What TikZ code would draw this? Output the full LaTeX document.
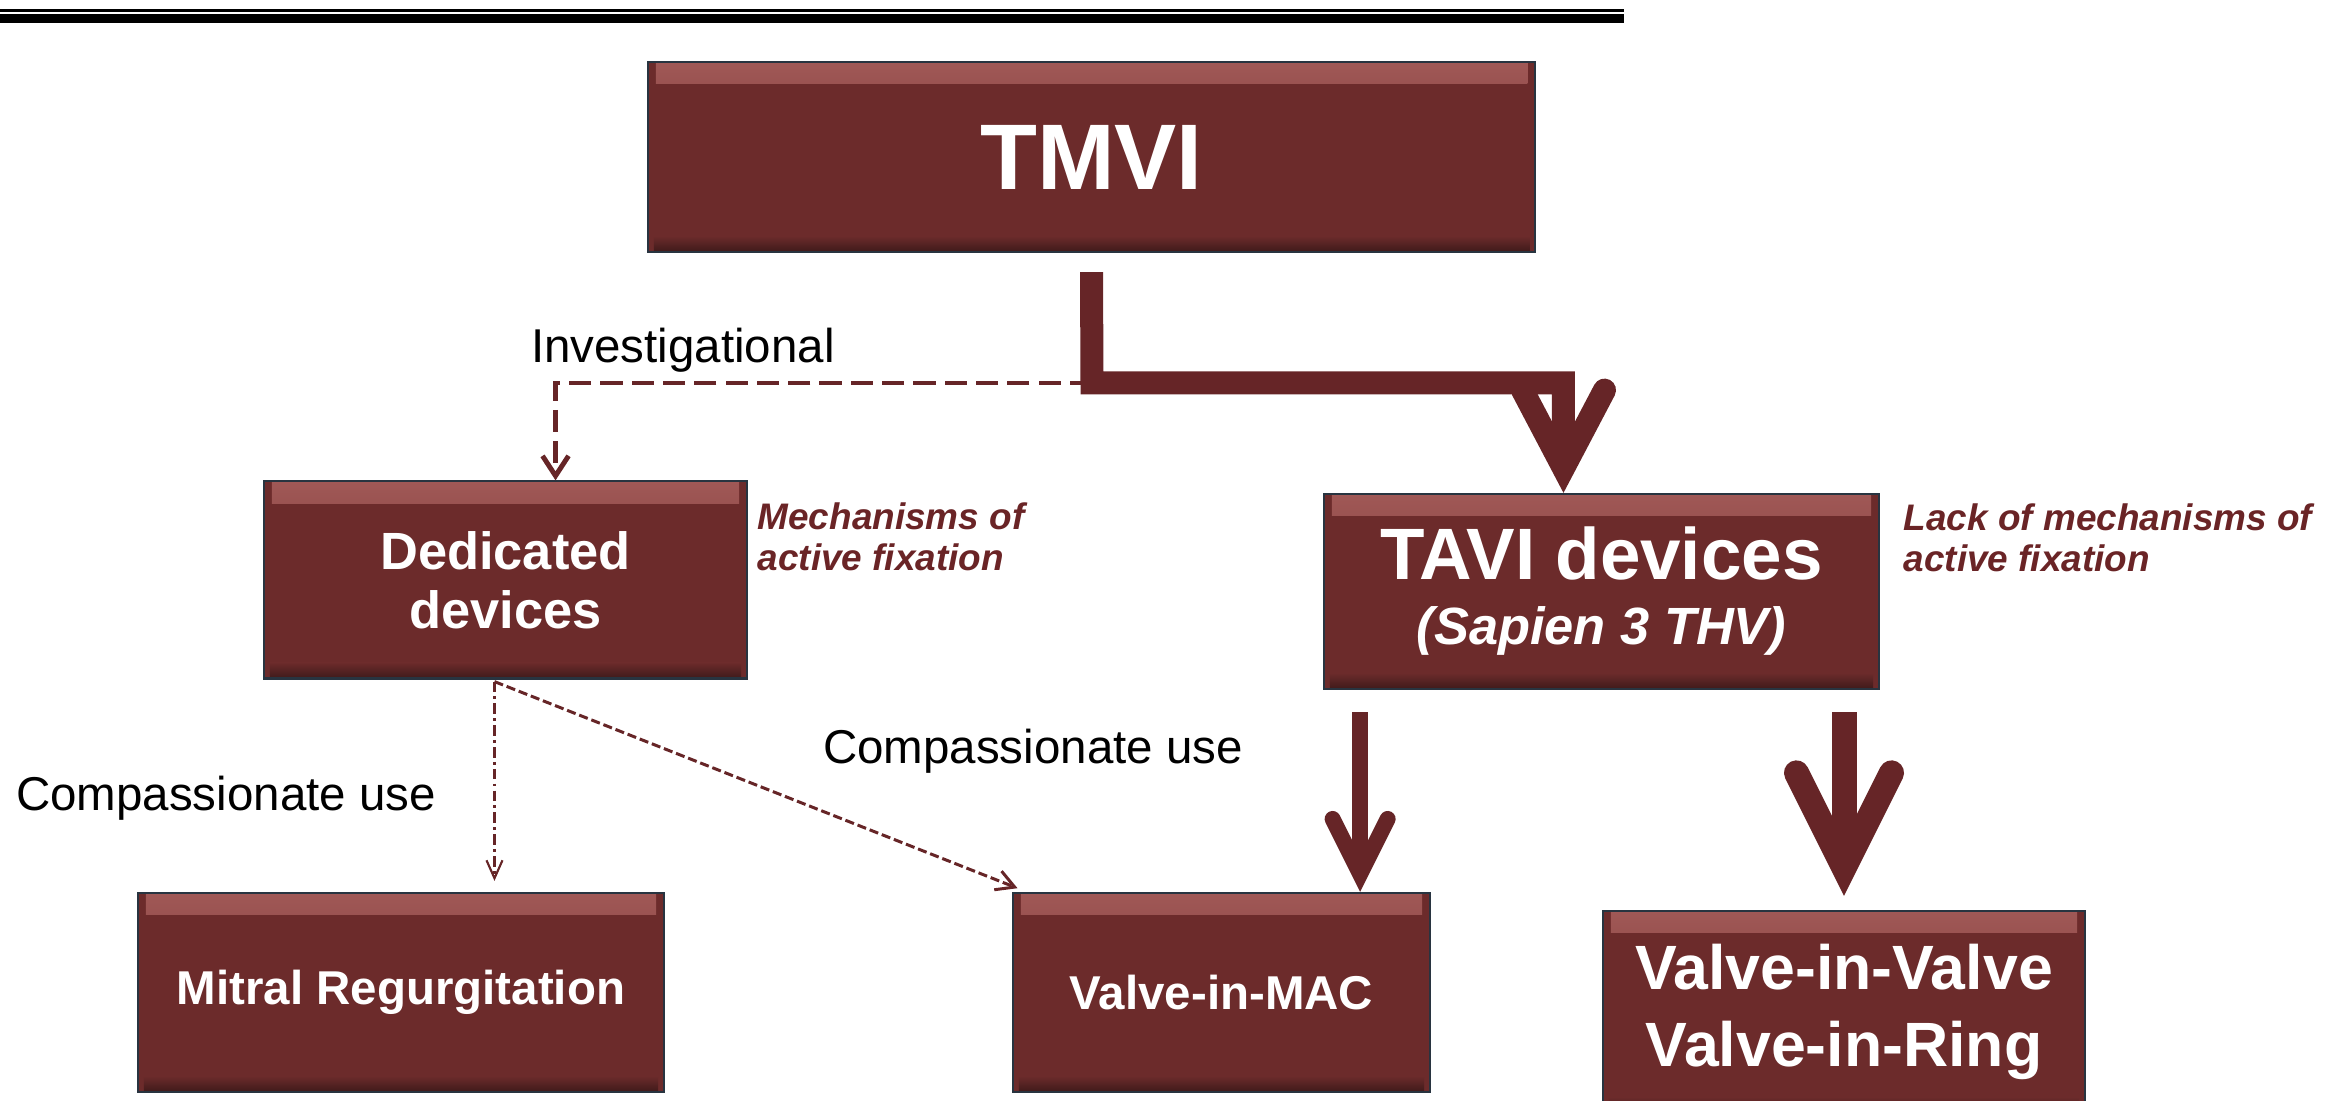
\documentclass[tikz,border=0pt]{standalone}
\usepackage{fontspec}
\setmainfont{Liberation Sans}
\usepackage{xcolor}
\usepackage{tikz}
\usetikzlibrary{positioning}
\usetikzlibrary{arrows.meta}
\definecolor{boxred}{RGB}{108,43,43}
\definecolor{arrowred}{RGB}{102,37,39}
\definecolor{notered}{RGB}{106,36,38}
\definecolor{boxline}{RGB}{40,52,64}
\definecolor{bevelhi}{RGB}{160,88,86}
\definecolor{bevello}{RGB}{62,26,26}

\begin{document}
\begin{tikzpicture}[x=0.01cm, y=-0.01cm]
\useasboundingbox (0,0) rectangle (2326,1101);
% Define styles
\tikzstyle{devbox} = [draw=boxline, line width=0.6pt, fill=boxred, text=white, align=center, inner sep=0pt,
  path picture={
    \shade[top color=bevelhi, bottom color=boxred] ([xshift=0.08cm]path picture bounding box.north west) rectangle ([xshift=-0.08cm,yshift=-0.22cm]path picture bounding box.north east);
    \shade[top color=boxred, bottom color=bevello] ([xshift=0.06cm,yshift=0.16cm]path picture bounding box.south west) rectangle ([xshift=-0.06cm]path picture bounding box.south east);
  }]
\tikzstyle{pathtext} = [font=\fontsize{13.5}{16}\selectfont, text=black, inner sep=0pt]
\tikzstyle{fixnote} = [font=\fontsize{10.5}{11.8}\selectfont\bfseries\itshape, text=notered, align=left, inner sep=0pt, anchor=west]
\tikzstyle{fatarrow} = [draw=arrowred, line join=miter, -{Straight Barb[length=0.78cm, width=0.82cm, line cap=round]}]
\tikzstyle{dashlink} = [draw=arrowred, line width=1.4pt, dash pattern=on 6.3pt off 2.6pt, -{Straight Barb[length=0.2cm, width=0.26cm]}]
\tikzstyle{finedash} = [draw=arrowred, line width=0.6pt, dash pattern=on 3pt off 1.2pt on 0.8pt off 1.2pt, -{Straight Barb[length=0.18cm, width=0.16cm]}]
\tikzstyle{diagdash} = [draw=arrowred, line width=0.85pt, dash pattern=on 2.6pt off 1.1pt, -{Straight Barb[length=0.18cm, width=0.2cm]}]

% Top rule
\fill[black] (0,9) rectangle (1624,12);
\fill[black] (0,14) rectangle (1624,23);

% Define nodes
\node[devbox, minimum width=8.87cm, minimum height=1.90cm, font=\fontsize{26.5}{30}\selectfont\bfseries] (tmvi) at (1091.5,157) {TMVI};
\node[devbox, minimum width=4.83cm, minimum height=1.97cm, font=\fontsize{14.9}{16.8}\selectfont\bfseries] (dedicated) at (505.5,580) {Dedicated\\devices};
\node[devbox, minimum width=5.55cm, minimum height=1.95cm, font=\fontsize{14.9}{18.5}\selectfont\bfseries] (tavi) at (1601.5,591.5) {{\fontsize{20.7}{22}\selectfont TAVI devices}\\{\itshape (Sapien 3 THV)}};
\node[devbox, minimum width=5.26cm, minimum height=1.99cm, font=\fontsize{13.5}{16}\selectfont\bfseries] (mitral) at (401,992.5) {Mitral Regurgitation};
\node[devbox, minimum width=4.17cm, minimum height=1.99cm, font=\fontsize{13.5}{16}\selectfont\bfseries] (vmac) at (1221.5,992.5) {Valve-in-MAC};
\node[devbox, minimum width=4.82cm, minimum height=2.02cm, font=\fontsize{17.8}{21.9}\selectfont\bfseries] (vinv) at (1844,1012) {Valve-in-Valve\\Valve-in-Ring};

\node[fixnote] (dednote) at (757,537) {Mechanisms of\\active fixation};
\node[fixnote] (tavinote) at (1903,538) {Lack of mechanisms of\\active fixation};
\node[pathtext] (invest) at (683,350) {Investigational};
\node[pathtext] (compleft) at (226,798) {Compassionate use};
\node[pathtext] (compright) at (1033,751) {Compassionate use};

\coordinate (split) at (1092,383);
\coordinate (tavitop) at ([xshift=-0.38cm]tavi.north);
\coordinate (fork) at ([xshift=-0.11cm,yshift=-0.02cm]dedicated.south);
\coordinate (macdrop) at ([xshift=-0.71cm]vmac.north east);

% Connect the nodes
\draw[dashlink] (split) -| ([xshift=0.5cm]dedicated.north);
\draw[fatarrow, line width=0.23cm] ([yshift=-0.19cm]tmvi.south) -- (split) -| (tavitop);
\draw[finedash, shorten >=0.11cm] (fork) -- (fork |- mitral.north);
\draw[diagdash, shorten >=0.1cm] (fork) -- ([xshift=0.15cm]vmac.north west);
\draw[fatarrow, line width=0.16cm, -{Straight Barb[length=0.55cm, width=0.55cm, line cap=round]}, shorten <=0.22cm] (macdrop |- tavi.south) -- (macdrop);
\draw[fatarrow, line width=0.25cm, -{Straight Barb[length=0.95cm, width=0.95cm, line cap=round]}, shorten <=0.22cm, shorten >=0.14cm] (vinv.north |- tavi.south) -- (vinv.north);

\end{tikzpicture}
\end{document}
